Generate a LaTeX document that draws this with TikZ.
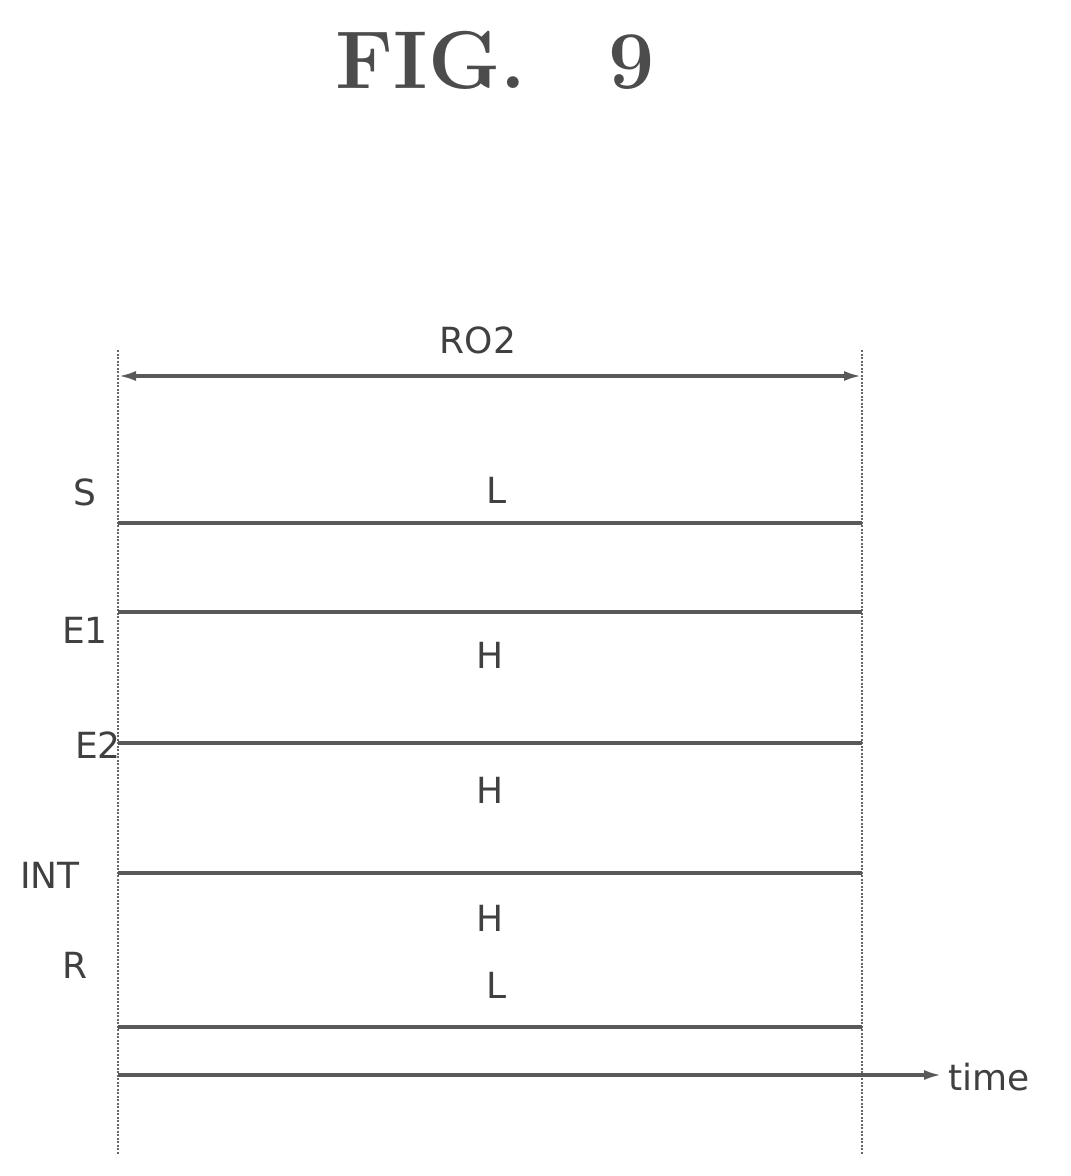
\documentclass[tikz,border=0pt]{standalone}
\usepackage{fontspec}
\setsansfont{DejaVu Sans}
\usetikzlibrary{arrows.meta}
\begin{document}
\begin{tikzpicture}[x=1pt,y=-1pt,
  lab/.style={font=\sffamily\fontsize{36}{38}\selectfont\color{black!75}},
  sig/.style={line width=3.5pt,black!65},
  guide/.style={dash pattern=on 2pt off 1.5pt,line width=2.6pt,black!60}]
\useasboundingbox (0,0) rectangle (1071,1176);
\node[font=\fontsize{82}{86}\selectfont\bfseries\color{black!70}] (fig) at (495,60) {FIG.\quad 9};
\coordinate (la) at (118,350); \coordinate (lb) at (118,1155);
\coordinate (ra) at (862,350); \coordinate (rb) at (862,1155);
\draw[guide] (la) -- (lb); \draw[guide] (ra) -- (rb);
\node[lab] (ro) at (478,340) {RO2};
\coordinate (a1) at (118,376); \coordinate (a2) at (862,376);
\draw[sig,{Latex[length=18pt,width=10pt]}-{Latex[length=18pt,width=10pt]}] (a1) -- (a2);
\foreach \y/\n in {523/s,612/e,743/f,873/g,1027/h}{
  \coordinate (\n1) at (118,\y); \coordinate (\n2) at (862,\y);
  \draw[sig] (\n1) -- (\n2);}
\coordinate (t1) at (118,1075); \coordinate (t2) at (942,1075);
\draw[sig,-{Latex[length=18pt,width=10pt]}] (t1) -- (t2);
\node[lab,anchor=west] (tm) at (945,1077) {time};
\node[lab] (vs) at (497,490) {L};
\node[lab] (v1) at (490,655) {H};
\node[lab] (v2) at (490,790) {H};
\node[lab] (v3) at (490,918) {H};
\node[lab] (vr) at (497,985) {L};
\node[lab] (ls) at (85,492) {S};
\node[lab] (le1) at (85,630) {E1};
\node[lab] (le2) at (98,745) {E2};
\node[lab] (li) at (50,875) {INT};
\node[lab] (lr) at (75,965) {R};
\end{tikzpicture}
\end{document}
